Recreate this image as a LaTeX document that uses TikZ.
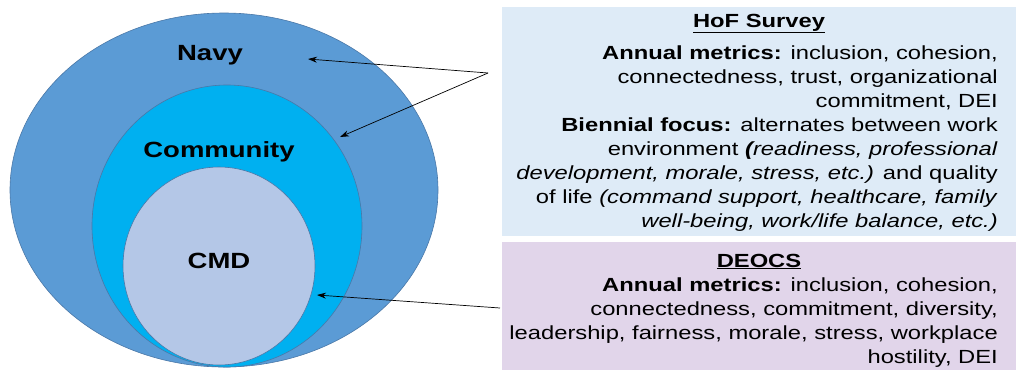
\documentclass[tikz,border=0pt]{standalone}
\usepackage{fontspec}
\setmainfont[FakeStretch=1.25]{Liberation Sans}
\usetikzlibrary{arrows.meta,shapes.geometric}
\definecolor{navyc}{HTML}{5B9BD5}
\definecolor{commc}{HTML}{00B0F0}
\definecolor{cmdc}{HTML}{B4C7E7}
\definecolor{edgec}{HTML}{4A78A8}
\definecolor{hofc}{HTML}{DEEBF7}
\definecolor{deocsc}{HTML}{E1D5EA}
\tikzset{
  ring/.style={draw=edgec, line width=0.6pt},
  lbl/.style={font=\fontsize{22}{26}\selectfont\bfseries, inner sep=0pt, anchor=base},
  infobox/.style={draw=none, inner sep=0pt, minimum width=514pt},
  ttl/.style={font=\fontsize{19}{24}\selectfont\bfseries, inner sep=0pt, anchor=base},
  body/.style={font=\fontsize{19}{24}\selectfont, inner sep=0pt, align=right, anchor=north east},
  arr/.style={-{Stealth[length=9pt,width=6pt]}, line width=0.7pt, black}
}
\begin{document}
\begin{tikzpicture}[x=1pt,y=-1pt]
\useasboundingbox (0,0) rectangle (1019,370);
\fill[white] (0,0) rectangle (1019,370);
% circles
\node[ring, fill=navyc, ellipse, minimum width=428pt, minimum height=354pt, inner sep=0pt] (navy) at (224,190) {};
\node[ring, fill=commc, ellipse, minimum width=270pt, minimum height=282pt, inner sep=0pt] (comm) at (227,226) {};
\node[ring, fill=cmdc, ellipse, minimum width=192pt, minimum height=198pt, inner sep=0pt] (cmd) at (219,266) {};
\node[lbl] (navyl) at (210,60) {Navy};
\node[lbl] (comml) at (219,157) {Community};
\node[lbl] (cmdl) at (219,268) {CMD};
% boxes
\node[infobox, fill=hofc, minimum height=229pt] (hof) at (759,121.5) {};
\node[infobox, fill=deocsc, minimum height=128pt] (deocs) at (759,306) {};
\node[ttl] (hoft) at (759,27) {\underline{HoF Survey}};
\node[body] (hofb) at (998,45.5) {\textbf{Annual metrics:} inclusion, cohesion,\\
connectedness, trust, organizational\\
commitment, DEI\\
\textbf{Biennial focus:} alternates between work\\
environment \textit{\textbf{(}readiness, professional}\\
\textit{development, morale, stress, etc.)} and quality\\
of life \textit{(command support, healthcare, family}\\
\textit{well-being, work/life balance, etc.)}};
\node[ttl] (deocst) at (759,267) {\underline{DEOCS}};
\node[body] (deocsb) at (998,277.5) {\textbf{Annual metrics:} inclusion, cohesion,\\
connectedness, commitment, diversity,\\
leadership, fairness, morale, stress, workplace\\
hostility, DEI};
% connectors
\coordinate (split) at (488,73);
\coordinate (navyp) at (308,59);
\coordinate (commp) at (340,137);
\coordinate (cmdp) at (317,295);
\coordinate (deocsp) at (500,308);
\draw[arr] (split) -- (navyp);
\draw[arr] (split) -- (commp);
\draw[arr] (deocsp) -- (cmdp);
\end{tikzpicture}
\end{document}
